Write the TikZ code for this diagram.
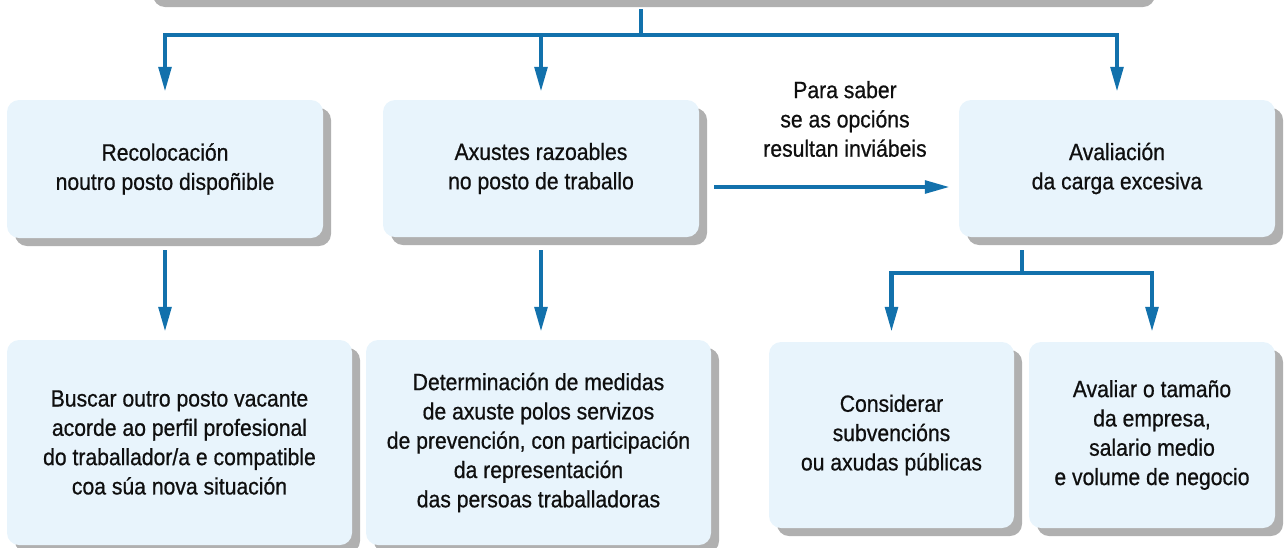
\documentclass[tikz,border=0pt]{standalone}
\usepackage{fontspec}
\setmainfont{Liberation Sans}[FakeStretch=0.9,FakeBold=0.7]
\usetikzlibrary{arrows.meta,shadows,calc}
\definecolor{lineblue}{RGB}{18,113,172}
\definecolor{boxfill}{RGB}{232,244,252}
\definecolor{shadowgray}{RGB}{176,176,176}
\definecolor{textcol}{RGB}{15,15,15}
\tikzset{
  box/.style={draw=none, fill=boxfill, rounded corners=12pt, inner sep=0pt,
    drop shadow={shadow xshift=8pt, shadow yshift=-8pt, fill=shadowgray, opacity=1},
    align=center, text=textcol, font=\fontsize{23.5}{29.3}\selectfont},
  lbl/.style={align=center, text=textcol, inner sep=0pt, font=\fontsize{23.5}{29.3}\selectfont},
  conn/.style={draw=lineblue, line width=4.2pt},
  arr/.style={conn, -{Triangle[length=25pt,width=12.5pt]}},
}
\begin{document}
\begin{tikzpicture}[x=1pt,y=-1pt]
\useasboundingbox (0,0) rectangle (1285,547);
% top box (cut off)
\node[box, minimum width=1002pt, minimum height=59pt] (T) at (646,-30.5) {};
% first row
\node[box, minimum width=316pt, minimum height=138pt] (B1) at (165,169) {Recolocación\\noutro posto dispoñible};
\node[box, minimum width=316pt, minimum height=137pt] (B2) at (541,168.5) {Axustes razoables\\no posto de traballo};
\node[box, minimum width=316pt, minimum height=137pt] (B3) at (1117,168.5) {Avaliación\\da carga excesiva};
% second row
\node[box, minimum width=345pt, minimum height=205pt] (B4) at (179.5,442.5) {Buscar outro posto vacante\\acorde ao perfil profesional\\do traballador/a e compatible\\coa súa nova situación};
\node[box, minimum width=345pt, minimum height=205pt] (B5) at (538.5,442.5) {Determinación de medidas\\de axuste polos servizos\\de prevención, con participación\\da representación\\das persoas traballadoras};
\node[box, minimum width=245pt, minimum height=186pt] (B6) at (891.5,435) {Considerar\\subvencións\\ou axudas públicas};
\node[box, minimum width=246pt, minimum height=186pt] (B7) at (1152,435) {Avaliar o tamaño\\da empresa,\\salario medio\\e volume de negocio};
% label
\node[lbl] (L) at (845,119) {Para saber\\se as opcións\\resultan inviábeis};
% connectors
\coordinate (j1) at (641,35);
\draw[conn, shorten <=10pt] (T.south -| j1) -- (j1);
\draw[arr, shorten >=8pt] (j1) -| (B1.north);
\draw[arr, shorten >=8pt] (j1) -| (B2.north);
\draw[arr, shorten >=8pt] (j1) -| (B3.north);
\draw[arr, shorten <=12pt, shorten >=8pt] (B1.south) -- (B1.south |- B4.north);
\draw[arr, shorten <=13pt, shorten >=8pt] (B2.south) -- (B2.south |- B5.north);
\draw[arr, shorten <=15pt, shorten >=9pt] (B2.east |- 0,187) -- (B3.west |- 0,187);
\coordinate (j2) at (1022,273);
\draw[conn, shorten <=13pt] (B3.south -| j2) -- (j2);
\draw[arr, shorten >=10pt] (j2) -| (B6.north);
\draw[arr, shorten >=10pt] (j2) -| (B7.north);
\end{tikzpicture}
\end{document}
